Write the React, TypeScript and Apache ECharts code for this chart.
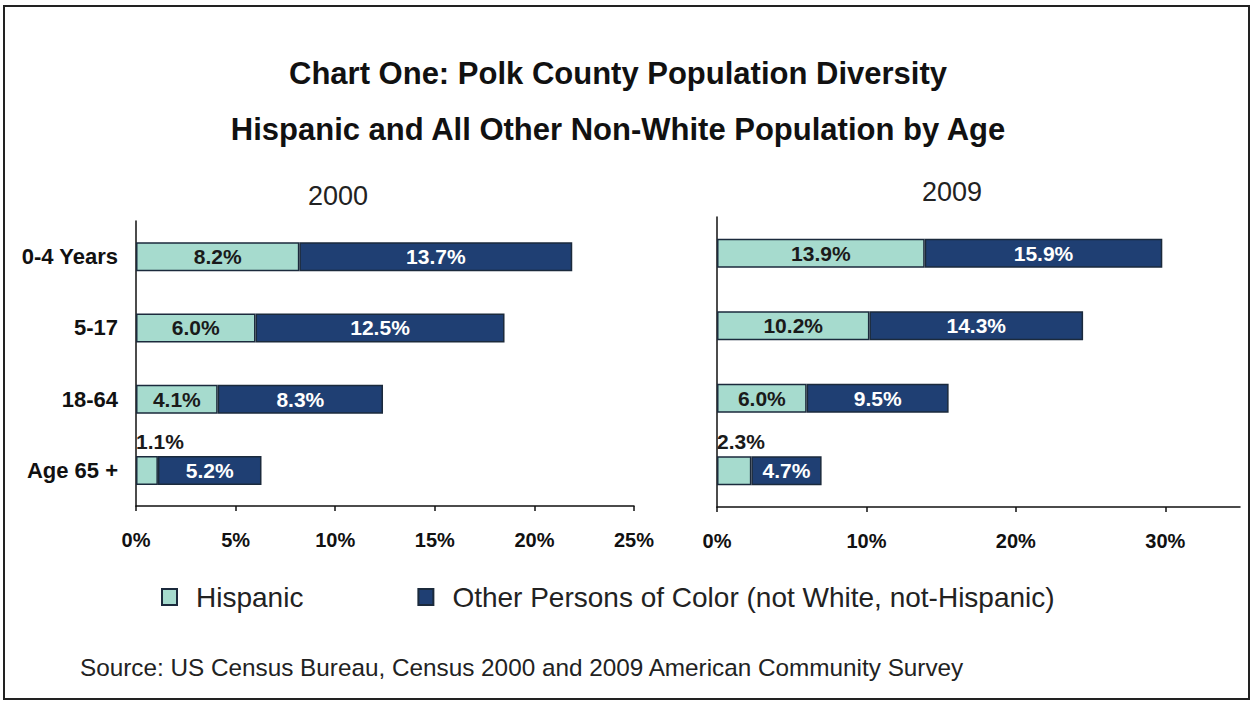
import React, { useEffect, useRef } from "react";
import * as echarts from "echarts";

const categories = ["0-4 Years", "5-17", "18-64", "Age 65 +"];
const hispanic2000 = [8.2, 6.0, 4.1, 1.1];
const other2000 = [13.7, 12.5, 8.3, 5.2];
const hispanic2009 = [13.9, 10.2, 6.0, 2.3];
const other2009 = [15.9, 14.3, 9.5, 4.7];
const seriesNames = ["Hispanic", "Other Persons of Color (not White, not-Hispanic)"];
const titleLines = [
  "Chart One: Polk County Population Diversity",
  "Hispanic and All Other Non-White Population by Age",
];
const yearLabels = ["2000", "2009"];
const sourceText = "Source: US Census Bureau, Census 2000 and 2009 American Community Survey";

const SANS = "'Liberation Sans', Arial, sans-serif";
const LIGHT = "#a6dbce";
const DARK = "#1f3f73";
const BORDER = "#1b2a3c";

function pct(v: number) {
  return v.toFixed(1) + "%";
}

function hispData(vals: number[]) {
  return vals.map((v) =>
    v < 3
      ? {
          value: v,
          label: { position: [0, -4], align: "left", verticalAlign: "bottom" },
        }
      : v
  );
}

export default function App() {
  const ref = useRef<HTMLDivElement>(null);
  useEffect(() => {
    if (!ref.current) return;
    const chart = echarts.init(ref.current, null, { renderer: "svg" });
    const barLabel = (color: string) => ({
      show: true,
      position: "inside",
      formatter: (p: any) => pct(p.value),
      color,
      fontFamily: SANS,
      fontWeight: "bold",
      fontSize: 21,
    });
    const xAxisBase = (gridIndex: number, max: number, interval: number) => ({
      type: "value",
      gridIndex,
      min: 0,
      max,
      interval,
      splitLine: { show: false },
      axisLine: { show: true, lineStyle: { color: "#111", width: 1.5 } },
      axisTick: { show: true, length: 5, lineStyle: { color: "#111", width: 1.5 } },
      axisLabel: {
        margin: 24,
        color: "#111",
        fontFamily: SANS,
        fontWeight: "bold",
        fontSize: 20,
        showMaxLabel: gridIndex === 0,
        formatter: (v: number) => v + "%",
      },
    });
    const yAxisBase = (gridIndex: number, showLabel: boolean) => ({
      type: "category",
      gridIndex,
      inverse: true,
      data: categories,
      axisLine: { show: true, lineStyle: { color: "#111", width: 1.5 } },
      axisTick: { show: false },
      axisLabel: {
        show: showLabel,
        margin: 18,
        color: "#111",
        fontFamily: SANS,
        fontWeight: "bold",
        fontSize: 22,
      },
    });
    const itemStyle = (color: string) => ({ color, borderColor: BORDER, borderWidth: 1.5 });
    chart.setOption({
      animation: false,
      backgroundColor: "#ffffff",
      grid: [
        { left: 136, top: 221, width: 498, height: 285, containLabel: false },
        { left: 717, top: 217, width: 523, height: 290, containLabel: false },
      ],
      xAxis: [xAxisBase(0, 25, 5), xAxisBase(1, 35, 10)],
      yAxis: [yAxisBase(0, true), yAxisBase(1, false)],
      legend: {
        data: seriesNames,
        left: 156,
        top: 578,
        itemWidth: 15,
        itemHeight: 16,
        itemGap: 114,
        icon: "rect",
        textStyle: {
          fontFamily: SANS,
          fontSize: 28,
          color: "#222",
          padding: [0, 0, 0, 14],
        },
      },
      series: [
        {
          type: "bar",
          name: seriesNames[0],
          stack: "y2000",
          xAxisIndex: 0,
          yAxisIndex: 0,
          barWidth: 29,
          data: hispData(hispanic2000),
          itemStyle: itemStyle(LIGHT),
          label: barLabel("#1a1a1a"),
        },
        {
          type: "bar",
          name: seriesNames[1],
          stack: "y2000",
          xAxisIndex: 0,
          yAxisIndex: 0,
          barWidth: 29,
          data: other2000,
          itemStyle: itemStyle(DARK),
          label: barLabel("#ffffff"),
        },
        {
          type: "bar",
          name: seriesNames[0],
          stack: "y2009",
          xAxisIndex: 1,
          yAxisIndex: 1,
          barWidth: 29,
          data: hispData(hispanic2009),
          itemStyle: itemStyle(LIGHT),
          label: barLabel("#1a1a1a"),
        },
        {
          type: "bar",
          name: seriesNames[1],
          stack: "y2009",
          xAxisIndex: 1,
          yAxisIndex: 1,
          barWidth: 29,
          data: other2009,
          itemStyle: itemStyle(DARK),
          label: barLabel("#ffffff"),
        },
      ],
      graphic: [
        {
          type: "rect",
          shape: { x: 4, y: 6, width: 1245, height: 693 },
          style: { fill: "none", stroke: "#222", lineWidth: 2 },
          silent: true,
        },
        {
          type: "text",
          x: 618,
          y: 73,
          style: {
            text: titleLines[0],
            fontFamily: SANS,
            fontWeight: "bold",
            fontSize: 31,
            fill: "#111",
            align: "center",
            verticalAlign: "middle",
          },
        },
        {
          type: "text",
          x: 618,
          y: 129,
          style: {
            text: titleLines[1],
            fontFamily: SANS,
            fontWeight: "bold",
            fontSize: 31,
            fill: "#111",
            align: "center",
            verticalAlign: "middle",
          },
        },
        {
          type: "text",
          x: 338,
          y: 196,
          style: {
            text: yearLabels[0],
            fontFamily: SANS,
            fontSize: 27,
            fill: "#222",
            align: "center",
            verticalAlign: "middle",
          },
        },
        {
          type: "text",
          x: 952,
          y: 192,
          style: {
            text: yearLabels[1],
            fontFamily: SANS,
            fontSize: 27,
            fill: "#222",
            align: "center",
            verticalAlign: "middle",
          },
        },
        {
          type: "text",
          x: 80,
          y: 667,
          style: {
            text: sourceText,
            fontFamily: SANS,
            fontSize: 24.3,
            fill: "#222",
            align: "left",
            verticalAlign: "middle",
          },
        },
      ],
    });
    return () => chart.dispose();
  }, []);
  return (
    <div
      ref={ref}
      style={{ position: "absolute", left: 0, top: 0, width: 1253, height: 704 }}
    />
  );
}
